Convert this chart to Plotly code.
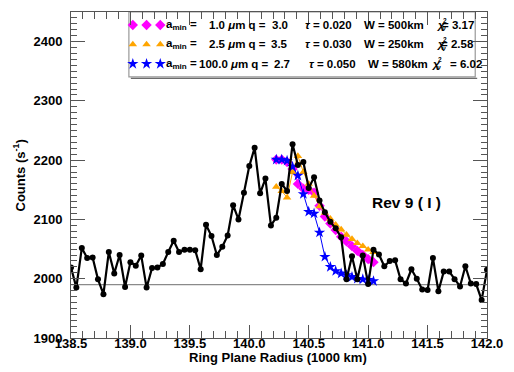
import plotly.graph_objects as go

# ---------------- data ----------------
radius = [138.500, 138.545, 138.591, 138.636, 138.682, 138.727, 138.773, 138.818, 138.864, 138.909,
          138.955, 139.000, 139.045, 139.091, 139.136, 139.182, 139.227, 139.273, 139.318, 139.364,
          139.409, 139.455, 139.500, 139.545, 139.591, 139.636, 139.682, 139.727, 139.773, 139.818,
          139.864, 139.909, 139.955, 140.000, 140.045, 140.091, 140.136, 140.182, 140.227, 140.273,
          140.318, 140.364, 140.409, 140.455, 140.500, 140.545, 140.591, 140.636, 140.682, 140.727,
          140.773, 140.818, 140.864, 140.909, 140.955, 141.000, 141.045, 141.091, 141.136, 141.182,
          141.227, 141.273, 141.318, 141.364, 141.409, 141.455, 141.500, 141.545, 141.591, 141.636,
          141.682, 141.727, 141.773, 141.818, 141.864, 141.909, 141.955, 142.000]
counts = [2019, 1985, 2052, 2035, 2036, 1999, 1974, 2045, 2009, 2040,
          1986, 2028, 2022, 2039, 1985, 2018, 2019, 2025, 2045, 2064,
          2045, 2049, 2049, 2048, 2016, 2091, 2072, 2040, 2054, 2073,
          2124, 2100, 2145, 2190, 2221, 2144, 2169, 2090, 2103, 2160,
          2148, 2227, 2192, 2197, 2153, 2171, 2132, 2112, 2096, 2085,
          2070, 1999, 2038, 1999, 2039, 1991, 2049, 2041, 2021, 2030,
          2031, 1999, 1992, 2016, 2000, 1982, 1981, 2035, 1979, 2012,
          2012, 1999, 1987, 2021, 1992, 1991, 1964, 2015]

model_radius = [140.227, 140.273, 140.318, 140.364, 140.409, 140.455, 140.500, 140.545, 140.591, 140.636,
                140.682, 140.727, 140.773, 140.818, 140.864, 140.909, 140.955, 141.000, 141.045]
model_a1 = [2201, 2201, 2197, 2185, 2160, 2152, 2150, 2145, 2123, 2105,
            2093, 2082, 2071, 2063, 2055, 2047, 2040, 2033, 2028]
model_a2 = [2155, 2148, 2137, 2180, 2207, 2180, 2160, 2140, 2122, 2111,
            2101, 2091, 2083, 2074, 2067, 2060, 2055, 2049, 2045]
model_a3 = [2201, 2201, 2199, 2189, 2174, 2143, 2113, 2110, 2078, 2037,
            2020, 2013, 2009, 2006, 2003, 2000, 1999, 1998, 1996]
baseline = 1990

amin = [1.0, 2.5, 100.0]
q_vals = [3.0, 3.5, 2.7]
tau_vals = [0.020, 0.030, 0.050]
w_vals = [500, 250, 580]
chi2_vals = [3.17, 2.58, 6.02]

x_ticks = [138.5, 139.0, 139.5, 140.0, 140.5, 141.0, 141.5, 142.0]
y_ticks = [1900, 2000, 2100, 2200, 2300, 2400]

# ---------------- styling ----------------
FONT = "Liberation Sans, Arial, Helvetica, sans-serif"
colors = ["#FF00FF", "#FFA500", "#0000FF"]
symbols = ["diamond", "triangle-up", "star"]
msizes = [8, 7.5, 8.5]
models = [model_a1, model_a2, model_a3]

L, R, T, B = 71, 19, 11, 34
W_FIG, H_FIG = 514, 372
PW, PH = W_FIG - L - R, H_FIG - T - B


def px(xp):
    return (xp - L) / PW


def py(yp):
    return (H_FIG - B - yp) / PH


fig = go.Figure()

# baseline
fig.add_shape(type="line", xref="paper", x0=0, x1=1, yref="y", y0=baseline, y1=baseline,
              line=dict(color="#8a8a8a", width=1.2), layer="below")

# legend box (below traces so the legend symbols show on top)
fig.add_shape(type="rect", xref="paper", yref="paper",
              x0=px(130), x1=px(483), y0=py(76), y1=py(11),
              line=dict(color="#999999", width=1.2), fillcolor="white", layer="below")
fig.add_shape(type="line", xref="paper", yref="paper",
              x0=px(132), x1=px(485), y0=py(77.5), y1=py(77.5),
              line=dict(color="#444444", width=1), layer="below")

# models
for k in [0, 1, 2]:
    fig.add_trace(go.Scatter(x=model_radius, y=models[k], mode="lines+markers",
                             line=dict(color=colors[k], width=1),
                             marker=dict(symbol=symbols[k], size=msizes[k], color=colors[k],
                                         line=dict(width=0)),
                             showlegend=False, hoverinfo="skip"))

# data
fig.add_trace(go.Scatter(x=radius, y=counts, mode="lines+markers",
                         line=dict(color="black", width=2.2),
                         marker=dict(symbol="circle", size=6, color="black"),
                         showlegend=False, hoverinfo="skip"))

row_y = [24, 43.5, 63]
mk_x = [134, 148, 162]
for i in range(3):
    fig.add_trace(go.Scatter(x=[px(v) for v in mk_x], y=[py(row_y[i])] * 3,
                             xaxis="x2", yaxis="y2", mode="markers",
                             marker=dict(symbol=symbols[i], size=msizes[i], color=colors[i],
                                         line=dict(width=0)),
                             showlegend=False, hoverinfo="skip", cliponaxis=False))

lf = dict(family=FONT, size=11.5, color="black", weight="bold")
sf = dict(family=FONT, size=6.5, color="black", weight="bold")
ann = []
val_right = [272, 272, 275]
q_right = [294, 294, 296]
tau_left = [307, 307, 312]
w_left = [368, 368, 372]
chi_left = [441, 441, 436]
end_right = [484, 484, 492]
for i in range(3):
    yy = py(row_y[i])
    ann.append(dict(x=px(166), y=yy, xref="paper", yref="paper", xanchor="left", yanchor="middle",
                    text="a<sub>min</sub>\u00a0=", showarrow=False, font=lf))
    ann.append(dict(x=px(val_right[i]), y=yy, xref="paper", yref="paper", xanchor="right", yanchor="middle",
                    text=f"{amin[i]:.1f}\u00a0<i>\u03bc</i>m\u00a0q\u00a0=", showarrow=False, font=lf))
    ann.append(dict(x=px(q_right[i]), y=yy, xref="paper", yref="paper", xanchor="right", yanchor="middle",
                    text=f"{q_vals[i]:.1f}", showarrow=False, font=lf))
    ann.append(dict(x=px(tau_left[i]), y=yy, xref="paper", yref="paper", xanchor="left", yanchor="middle",
                    text=f"<i>\u03c4</i>\u00a0=\u00a0{tau_vals[i]:.3f}", showarrow=False, font=lf))
    ann.append(dict(x=px(w_left[i]), y=yy, xref="paper", yref="paper", xanchor="left", yanchor="middle",
                    text=f"W\u00a0=\u00a0{w_vals[i]}km", showarrow=False, font=lf))
    ann.append(dict(x=px(chi_left[i]), y=yy, xref="paper", yref="paper", xanchor="left", yanchor="middle",
                    text="<i>\u03c7</i>", showarrow=False, font=lf))
    ann.append(dict(x=px(chi_left[i] + 7), y=py(row_y[i] - 4.5), xref="paper", yref="paper",
                    xanchor="left", yanchor="middle", text="2", showarrow=False, font=sf))
    ann.append(dict(x=px(chi_left[i] + 6.5), y=py(row_y[i] + 4), xref="paper", yref="paper",
                    xanchor="left", yanchor="middle", text="<i>\u03bd</i>", showarrow=False, font=sf))
    ann.append(dict(x=px(end_right[i]), y=yy, xref="paper", yref="paper", xanchor="right", yanchor="middle",
                    text=f"=\u00a0{chi2_vals[i]:.2f}", showarrow=False, font=lf))

# Rev label
ann.append(dict(x=141.32, y=2129, xref="x", yref="y", text="Rev 9 ( I )", showarrow=False,
                font=dict(family=FONT, size=15.5, color="black", weight="bold")))
# axis titles
ann.append(dict(x=px(282), y=py(358), xref="paper", yref="paper", text="Ring Plane Radius (1000 km)",
                showarrow=False, yanchor="middle",
                font=dict(family=FONT, size=13, color="black", weight="bold")))
ann.append(dict(x=px(19), y=py(175), xref="paper", yref="paper", text="Counts (s<sup>-1</sup>)",
                showarrow=False, textangle=-90, xanchor="center", yanchor="middle",
                font=dict(family=FONT, size=13, color="black", weight="bold")))

axcol = "#555555"
fig.update_layout(
    width=W_FIG, height=H_FIG,
    margin=dict(l=L, r=R, t=T, b=B),
    paper_bgcolor="white", plot_bgcolor="white",
    font=dict(family=FONT, color="black"),
    xaxis=dict(range=[138.5, 142.0], tickvals=x_ticks, ticktext=[f"{v:.1f}" for v in x_ticks],
               ticks="inside", ticklen=13, tickwidth=1, tickcolor=axcol,
               showline=True, linecolor=axcol, linewidth=1, mirror="ticks",
               showgrid=False, zeroline=False, ticklabelstandoff=-7,
               minor=dict(dtick=0.1, tick0=138.5, ticks="inside", ticklen=7, tickcolor=axcol, showgrid=False),
               tickfont=dict(family=FONT, size=13, color="black", weight="bold")),
    yaxis=dict(range=[1900, 2450], tickvals=y_ticks, ticks="inside", ticklen=14, tickwidth=1,
               tickcolor=axcol, showline=True, linecolor=axcol, linewidth=1, mirror="ticks",
               showgrid=False, zeroline=False, ticklabelstandoff=5,
               minor=dict(dtick=10, tick0=1900, ticks="inside", ticklen=6, tickcolor=axcol, showgrid=False),
               tickfont=dict(family=FONT, size=13, color="black", weight="bold")),
    xaxis2=dict(range=[0, 1], overlaying="x", visible=False, fixedrange=True),
    yaxis2=dict(range=[0, 1], overlaying="y", visible=False, fixedrange=True),
    annotations=ann,
    showlegend=False,
)

fig.write_html("out.html")
